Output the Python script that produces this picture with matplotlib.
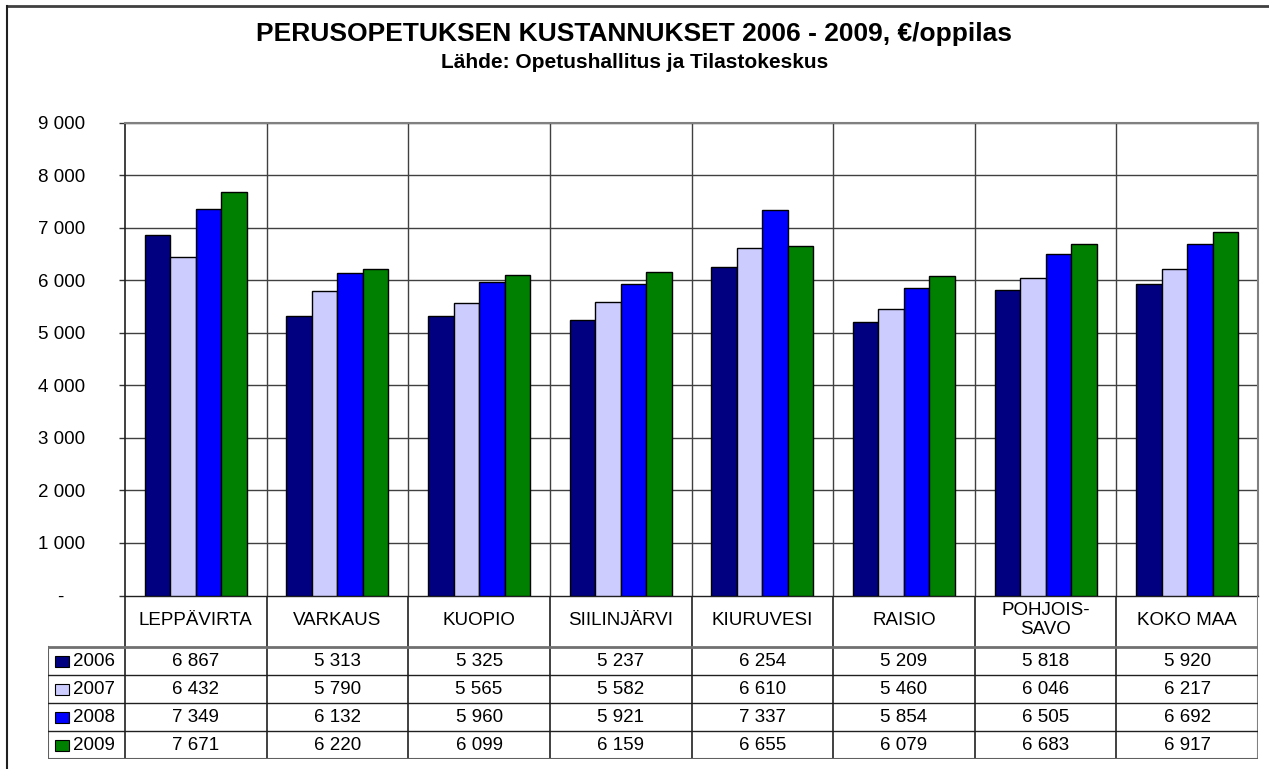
import matplotlib
matplotlib.use("Agg")
import matplotlib.pyplot as plt
from matplotlib.patches import Rectangle
from matplotlib.lines import Line2D
import numpy as np

plt.rcParams['font.family'] = ['Liberation Sans', 'DejaVu Sans']

categories = ["LEPPÄVIRTA", "VARKAUS", "KUOPIO", "SIILINJÄRVI", "KIURUVESI",
              "RAISIO", "POHJOIS-\nSAVO", "KOKO MAA"]
years = ["2006", "2007", "2008", "2009"]
v2006 = [6867, 5313, 5325, 5237, 6254, 5209, 5818, 5920]
v2007 = [6432, 5790, 5565, 5582, 6610, 5460, 6046, 6217]
v2008 = [7349, 6132, 5960, 5921, 7337, 5854, 6505, 6692]
v2009 = [7671, 6220, 6099, 6159, 6655, 6079, 6683, 6917]
series = [v2006, v2007, v2008, v2009]
colors = ["#000080", "#CCCCFF", "#0000FF", "#008000"]
yticks = [0, 1000, 2000, 3000, 4000, 5000, 6000, 7000, 8000, 9000]

title = "PERUSOPETUKSEN KUSTANNUKSET 2006 - 2009, €/oppilas"
subtitle = "Lähde: Opetushallitus ja Tilastokeskus"

W, H = 1269, 769
fig = plt.figure(figsize=(W / 100, H / 100), dpi=100)
PT = 72 / 100  # points per pixel

def fx(px):
    return px / W

def fy(py):
    return 1 - py / H

FS = 13.5

# plot area in pixels
L, R, T, B = 125, 1258, 122.5, 595.5
ax = fig.add_axes([fx(L), fy(B), fx(R) - fx(L), fy(T) - fy(B)])
n = len(categories)
ax.set_xlim(0, n)
ax.set_ylim(0, 9000)

bw = 0.18
x = np.arange(n)
for i, (vals, c) in enumerate(zip(series, colors)):
    ax.bar(x + 0.14 + bw * (i + 0.5), vals, width=bw, color=c,
           edgecolor="black", linewidth=1.0, zorder=3)

ax.set_yticks(yticks)
ax.set_yticklabels(["-    "] + [f"{v:,}".replace(",", " ") for v in yticks[1:]],
                   fontsize=FS)
ax.set_xticks([])
ax.tick_params(axis="y", direction="out", length=6 * PT, width=1.0,
               pad=34 * PT, color="#333333")
for v in yticks[1:]:
    ax.axhline(v, color="#404040", linewidth=1.0, zorder=1)
for k in range(1, n):
    ax.axvline(k, color="#404040", linewidth=1.0, zorder=1)
ax.spines["left"].set_color("#202020")
ax.spines["left"].set_linewidth(1.2)
ax.spines["top"].set_color("#808080")
ax.spines["top"].set_linewidth(1.5)
ax.spines["right"].set_color("#808080")
ax.spines["right"].set_linewidth(1.5)
ax.spines["bottom"].set_color("#202020")
ax.spines["bottom"].set_linewidth(1.0)

# table region
TL, TB = 48, 759
header_b = 647
row_h = (TB - header_b) / len(years)
tax = fig.add_axes([fx(TL), fy(TB), fx(R) - fx(TL), fy(B) - fy(TB)])
cw = (R - L) / n
x0 = -(L - TL) / cw
tax.set_xlim(x0, n)
tax.set_ylim(TB, B)
tax.axis("off")

lc = "#202020"
for k in range(0, n + 1):
    tax.plot([k, k], [B, TB], color=lc if k < n else "#808080",
             linewidth=1.2 if k < n else 1.5, solid_capstyle="butt")
tax.plot([x0, x0], [header_b, TB], color="#606060", linewidth=1.5)
tax.plot([x0, n], [header_b, header_b], color="#707070", linewidth=2.0)
for r in range(1, len(years) + 1):
    yy = header_b + r * row_h
    tax.plot([x0, n], [yy, yy], color="#606060" if r == len(years) else lc,
             linewidth=1.5 if r == len(years) else 1.0)

for k, cat in enumerate(categories):
    tax.text(k + 0.5, (B + header_b) / 2 - 1, cat, ha="center", va="center",
             fontsize=FS, linespacing=1.15)

sq_w = 14 / cw
for r, (yr, vals, c) in enumerate(zip(years, series, colors)):
    yc = header_b + (r + 0.5) * row_h
    tax.add_patch(Rectangle((x0 + 7 / cw, yc - 5), sq_w, 11, facecolor=c,
                            edgecolor="black", linewidth=0.8))
    tax.text(x0 + 25 / cw, yc + 1, yr, ha="left", va="center", fontsize=FS)
    for k, v in enumerate(vals):
        tax.text(k + 0.5, yc + 1, f"{v:,}".replace(",", " "), ha="center",
                 va="center", fontsize=FS)

fig.text(0.5, fy(34), title, ha="center", va="center", fontsize=19,
         fontweight="bold")
fig.text(0.5, fy(62), subtitle, ha="center", va="center", fontsize=15,
         fontweight="bold")

fig.add_artist(Line2D([fx(7), 1], [fy(5.5), fy(5.5)], color="#404040",
                      linewidth=2.0, transform=fig.transFigure))
fig.add_artist(Line2D([fx(7), fx(7)], [fy(5.5), 0], color="#202020",
                      linewidth=1.5, transform=fig.transFigure))

fig.savefig("out.png", dpi=100)
